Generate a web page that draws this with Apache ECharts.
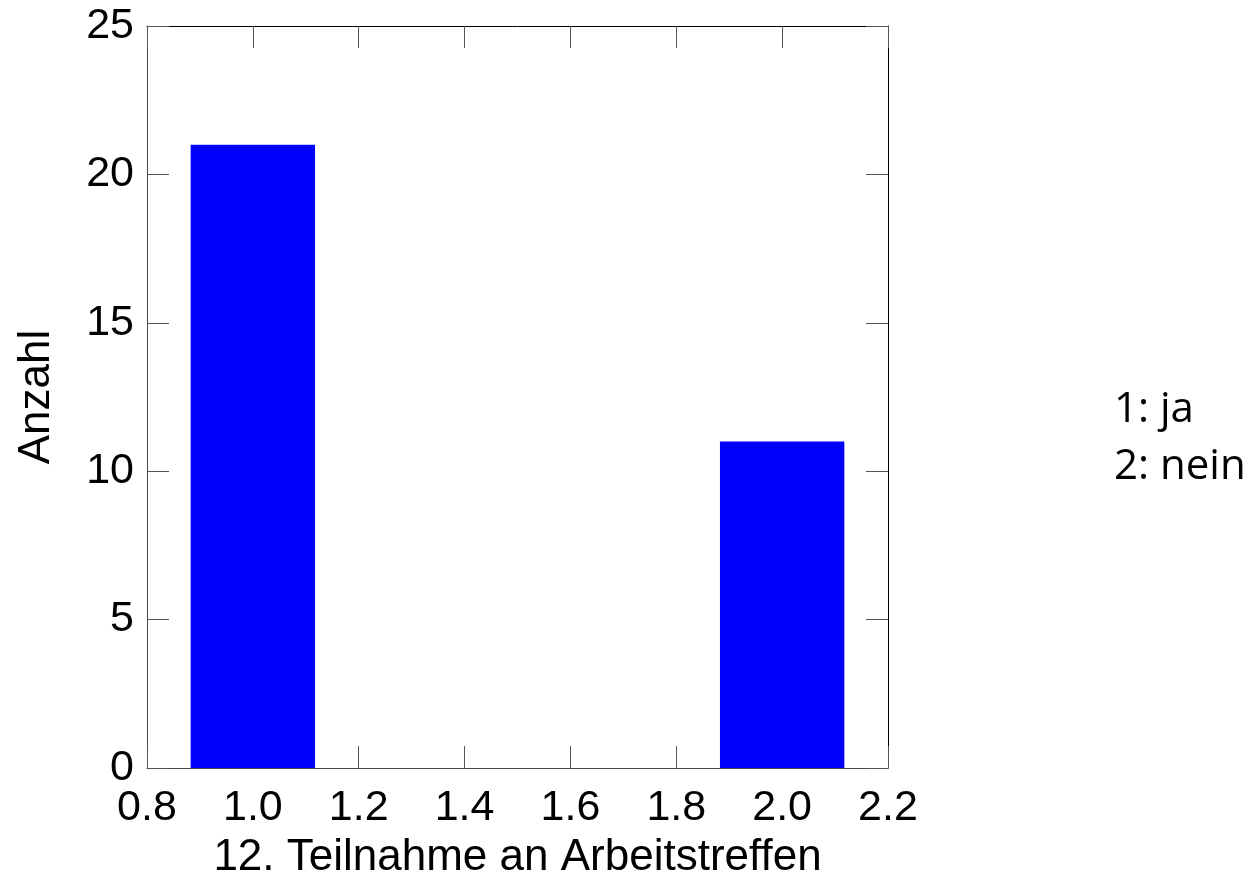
<!DOCTYPE html>
<html>
<head>
<meta charset="utf-8">
<script src="https://cdn.jsdelivr.net/npm/echarts@6/dist/echarts.min.js"></script>
<style>
html,body{margin:0;padding:0;background:#fff;}
#chart{width:1251px;height:881px;}
</style>
</head>
<body>
<div id="chart"></div>
<script>
// Data
var categories = [1, 2];
var counts = [21, 11];
var legendLines = ['1: ja', '2: nein'];
var xName = '12. Teilnahme an Arbeitstreffen';
var yName = 'Anzahl';

var BAR_WIDTH = 0.235; // in x data units
var FONT = '"Liberation Sans", Arial, sans-serif';

var chart = echarts.init(document.getElementById('chart'), null, {renderer: 'canvas'});

var barData = categories.map(function (c, i) { return [c, counts[i]]; });

var tickStyle = {show: true, inside: true, length: 22, lineStyle: {color: '#555', width: 1}};

var option = {
  backgroundColor: '#fff',
  animation: false,
  grid: {left: 147, top: 26, width: 741, height: 742, containLabel: false, outerBoundsMode: 'none'},
  xAxis: [{
    type: 'value', min: 0.8, max: 2.2, interval: 0.2,
    position: 'bottom',
    name: xName, nameLocation: 'middle', nameGap: 68,
    nameTextStyle: {fontFamily: FONT, fontSize: 44, color: '#000'},
    axisLine: {show: true, onZero: false, lineStyle: {color: '#444', width: 1}},
    axisTick: tickStyle,
    axisLabel: {fontFamily: FONT, fontSize: 43, color: '#000', margin: 19,
      formatter: function (v) { return v.toFixed(1); }},
    splitLine: {show: false}
  }, {
    type: 'value', min: 0.8, max: 2.2, interval: 0.2,
    position: 'top',
    axisLine: {show: true, onZero: false, lineStyle: {color: '#000', width: 1}},
    axisTick: tickStyle,
    axisLabel: {show: false},
    splitLine: {show: false}
  }],
  yAxis: [{
    type: 'value', min: 0, max: 25, interval: 5,
    position: 'left',
    name: yName, nameLocation: 'middle', nameGap: 88, nameRotate: 90,
    nameTextStyle: {fontFamily: FONT, fontSize: 44, color: '#000'},
    axisLine: {show: true, onZero: false, lineStyle: {color: '#444', width: 1}},
    axisTick: tickStyle,
    axisLabel: {fontFamily: FONT, fontSize: 43, color: '#000', margin: 13},
    splitLine: {show: false}
  }, {
    type: 'value', min: 0, max: 25, interval: 5,
    position: 'right',
    axisLine: {show: true, onZero: false, lineStyle: {color: '#000', width: 1}},
    axisTick: tickStyle,
    axisLabel: {show: false},
    splitLine: {show: false}
  }],
  series: [{
    type: 'custom',
    xAxisIndex: 0, yAxisIndex: 0,
    data: barData,
    renderItem: function (params, api) {
      var x = api.value(0), y = api.value(1);
      var p0 = api.coord([x - BAR_WIDTH / 2, y]);
      var p1 = api.coord([x + BAR_WIDTH / 2, 0]);
      return {
        type: 'rect',
        shape: {x: p0[0], y: p0[1], width: p1[0] - p0[0], height: p1[1] - p0[1]},
        style: {fill: '#0000ff'}
      };
    },
    z: 1
  }],
  graphic: legendLines.map(function (t, i) {
    return {
      type: 'text', left: 1114, top: 389 + i * 57,
      style: {text: t, fontFamily: '"Open Sans", sans-serif', fontSize: 42, fill: '#000'}
    };
  })
};
chart.setOption(option);
</script>
</body>
</html>
